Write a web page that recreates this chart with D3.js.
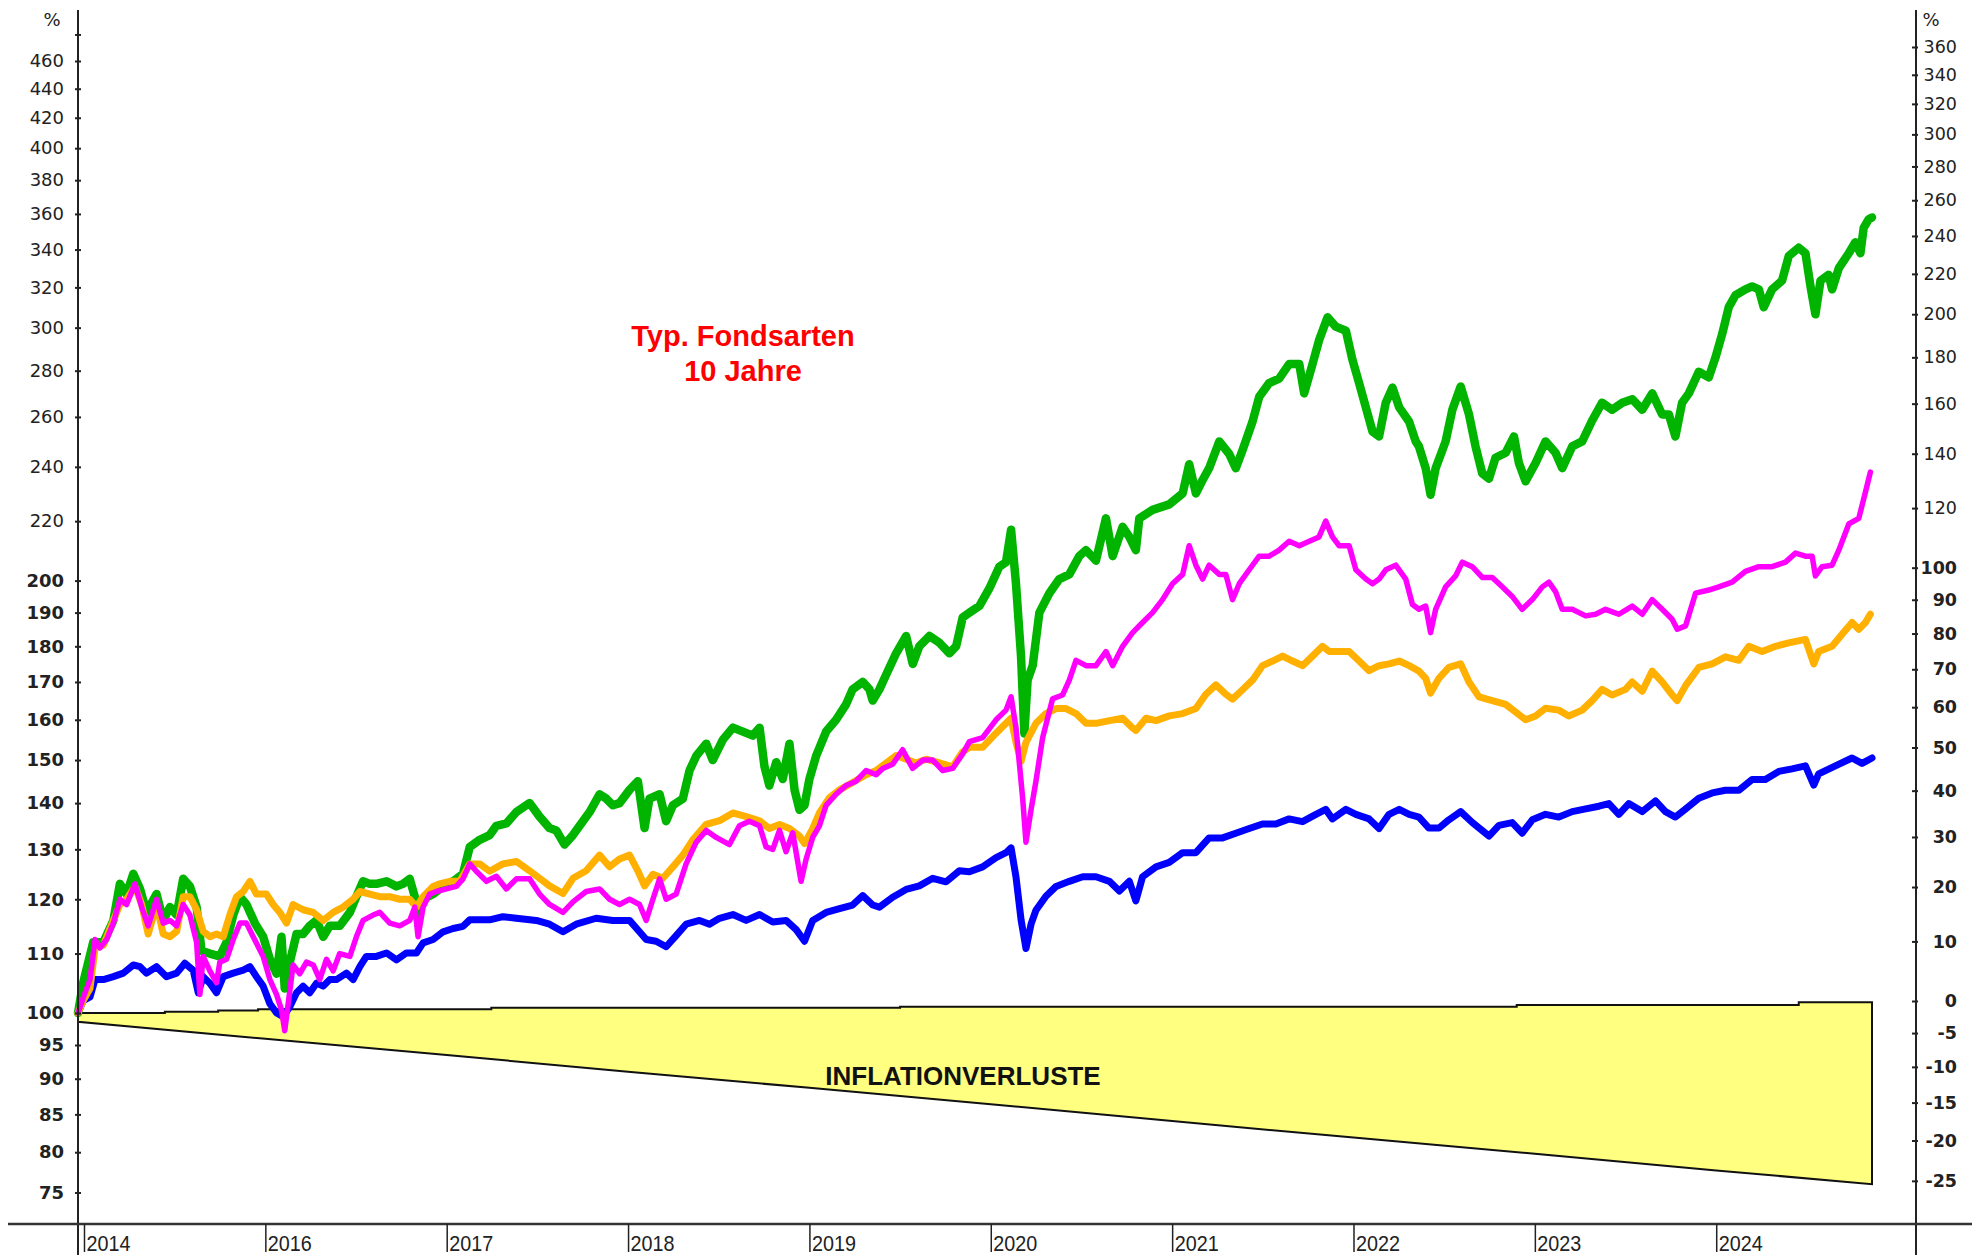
<!DOCTYPE html>
<html>
<head>
<meta charset="utf-8">
<script src="https://cdn.jsdelivr.net/npm/d3@7"></script>
<style>
    html, body { margin: 0; padding: 0; background: #fff; }
    svg { display: block; font-family: "Liberation Sans", Arial, sans-serif; }
</style>
</head>
<body>
<div id="chart"></div>
<script>
// x axis: tick positions (decimal years) and the labels the source prints there
const yearTicks = [2015, 2016, 2017, 2018, 2019, 2020, 2021, 2022, 2023, 2024];
const yearLabels = ["2014", "2016", "2017", "2018", "2019", "2020", "2021", "2022", "2023", "2024"];

// y axes: left = index (start = 100), right = change in %
const leftTicks = [75, 80, 85, 90, 95, 100, 110, 120, 130, 140, 150, 160, 170, 180, 190, 200,
    220, 240, 260, 280, 300, 320, 340, 360, 380, 400, 420, 440, 460, 480];
const rightTicks = [-25, -20, -15, -10, -5, 0, 10, 20, 30, 40, 50, 60, 70, 80, 90, 100,
    120, 140, 160, 180, 200, 220, 240, 260, 280, 300, 320, 340, 360];

// inflation band (index values)
const inflationTop = [[2014.967, 100], [2015.446, 100.2], [2015.74, 100.4], [2015.96, 100.6],
    [2017.246, 100.85], [2019.5, 101.0], [2022.9, 101.3], [2024.455, 101.75], [2024.859, 101.75]];
const inflationBottom = [[2014.967, 98.6], [2016, 95.96], [2017, 93.5], [2018, 91], [2019, 88.7],
    [2020, 86.4], [2021, 84.1], [2022, 81.9], [2023, 79.8], [2024, 77.7], [2024.859, 76]];

// fund series: [decimal year, index]
const seriesGreen = [
    [2014.967, 100], [2014.996, 105], [2015.051, 112], [2015.107, 112], [2015.162, 116], [2015.198, 123],
    [2015.235, 121], [2015.272, 125], [2015.309, 122], [2015.345, 117.5], [2015.4, 121], [2015.437, 116],
    [2015.474, 118.5], [2015.511, 117], [2015.547, 124], [2015.584, 122.5], [2015.621, 118.5], [2015.648, 110.5],
    [2015.694, 110], [2015.749, 109.5], [2015.786, 112], [2015.823, 117], [2015.86, 120.5], [2015.896, 119],
    [2015.942, 115.5], [2015.988, 113], [2016.025, 109], [2016.062, 106.5], [2016.089, 113], [2016.107, 104],
    [2016.135, 108.5], [2016.172, 113.5], [2016.208, 113.5], [2016.245, 115], [2016.282, 116], [2016.319, 113],
    [2016.355, 115], [2016.41, 115], [2016.466, 117.5], [2016.502, 120.5], [2016.539, 123.5], [2016.576, 123],
    [2016.612, 123], [2016.668, 123.5], [2016.723, 122.5], [2016.759, 123], [2016.796, 124], [2016.824, 120.5],
    [2016.842, 117], [2016.87, 120], [2016.925, 121], [2016.98, 122.5], [2017.035, 123.5], [2017.09, 125],
    [2017.127, 130.5], [2017.182, 132], [2017.237, 133], [2017.274, 135], [2017.329, 135.5], [2017.384, 138],
    [2017.457, 140], [2017.512, 137], [2017.567, 134.5], [2017.604, 134], [2017.65, 131], [2017.696, 133],
    [2017.733, 135], [2017.788, 138], [2017.843, 142], [2017.88, 141], [2017.916, 139.5], [2017.953, 140],
    [2018.008, 143], [2018.054, 145], [2018.091, 134.5], [2018.118, 141], [2018.174, 142], [2018.21, 136],
    [2018.247, 139.5], [2018.302, 141], [2018.339, 147.5], [2018.376, 151], [2018.431, 154], [2018.467, 150],
    [2018.523, 155], [2018.578, 158], [2018.633, 157], [2018.688, 156], [2018.725, 158], [2018.752, 148.5],
    [2018.779, 144], [2018.817, 149.5], [2018.853, 145.5], [2018.89, 154], [2018.918, 143], [2018.945, 138.5],
    [2018.973, 139.5], [2019.0, 145.5], [2019.037, 151], [2019.092, 157], [2019.147, 160], [2019.202, 164],
    [2019.238, 168], [2019.294, 170], [2019.331, 168], [2019.349, 165], [2019.386, 168], [2019.423, 172],
    [2019.478, 178], [2019.533, 183], [2019.57, 175], [2019.606, 180], [2019.662, 183], [2019.717, 181],
    [2019.772, 178], [2019.809, 180], [2019.845, 188.5], [2019.882, 190], [2019.937, 192], [2019.992, 197.5],
    [2020.047, 204.5], [2020.084, 206], [2020.112, 217], [2020.139, 199], [2020.167, 177], [2020.185, 156.5],
    [2020.203, 170.5], [2020.231, 174.5], [2020.268, 190], [2020.323, 196], [2020.378, 200.5], [2020.433, 202],
    [2020.488, 208], [2020.525, 210], [2020.58, 206.5], [2020.635, 221], [2020.672, 208], [2020.727, 218],
    [2020.764, 214.5], [2020.8, 210], [2020.819, 221], [2020.892, 224], [2020.984, 226], [2021.058, 230],
    [2021.094, 241], [2021.131, 230], [2021.168, 235], [2021.204, 239.5], [2021.26, 250], [2021.315, 245],
    [2021.351, 239.5], [2021.388, 246.5], [2021.443, 258], [2021.48, 268.5], [2021.535, 274.5], [2021.59, 276.5],
    [2021.645, 283], [2021.701, 283], [2021.728, 270], [2021.774, 283], [2021.81, 294], [2021.857, 305],
    [2021.902, 300.5], [2021.958, 298.5], [2021.994, 285], [2022.031, 274.5], [2022.068, 264], [2022.105, 254],
    [2022.141, 252], [2022.178, 266], [2022.215, 272.5], [2022.252, 264], [2022.307, 258], [2022.343, 250],
    [2022.361, 248], [2022.398, 239.5], [2022.425, 229.5], [2022.453, 239.5], [2022.508, 250], [2022.545, 263],
    [2022.591, 273], [2022.637, 261], [2022.673, 248], [2022.71, 237.5], [2022.747, 235.5], [2022.783, 243.5],
    [2022.839, 245.5], [2022.885, 252], [2022.912, 241.5], [2022.949, 234.5], [2023.004, 241.5], [2023.059, 250],
    [2023.114, 245.5], [2023.151, 239.5], [2023.206, 248], [2023.261, 250], [2023.316, 258.5], [2023.371, 266],
    [2023.426, 263], [2023.482, 266], [2023.537, 267.5], [2023.592, 263], [2023.647, 270], [2023.702, 261],
    [2023.739, 261], [2023.775, 252], [2023.812, 266], [2023.849, 270], [2023.904, 279.5], [2023.959, 277],
    [2023.996, 286], [2024.033, 297], [2024.069, 310], [2024.106, 316], [2024.161, 319], [2024.198, 320.5],
    [2024.235, 319], [2024.262, 310], [2024.308, 319], [2024.363, 323.5], [2024.4, 336.5], [2024.455, 341],
    [2024.492, 338], [2024.52, 320.5], [2024.547, 306.5], [2024.575, 323.5], [2024.62, 326.5], [2024.639, 319],
    [2024.676, 330], [2024.731, 338], [2024.767, 344], [2024.795, 338], [2024.813, 352], [2024.841, 357],
    [2024.859, 358]
];

const seriesMagenta = [
    [2014.967, 100], [2014.996, 102.5], [2015.033, 105.5], [2015.061, 112.5], [2015.088, 111], [2015.125, 112.5],
    [2015.162, 115.5], [2015.198, 120], [2015.235, 119], [2015.281, 123], [2015.318, 118.5], [2015.354, 115],
    [2015.4, 120], [2015.437, 115.5], [2015.474, 116], [2015.511, 115], [2015.547, 119], [2015.584, 117],
    [2015.621, 112], [2015.639, 103], [2015.657, 109.5], [2015.694, 107], [2015.731, 105], [2015.749, 108.5],
    [2015.786, 109], [2015.823, 112.5], [2015.86, 115.5], [2015.896, 115.5], [2015.933, 113], [2015.988, 109.5],
    [2016.025, 105.5], [2016.062, 103], [2016.089, 100.5], [2016.107, 97.2], [2016.126, 101.5], [2016.153, 108],
    [2016.19, 106.5], [2016.227, 108.5], [2016.264, 108], [2016.3, 105.5], [2016.337, 109], [2016.374, 107],
    [2016.41, 110], [2016.466, 109.5], [2016.502, 113], [2016.539, 116], [2016.594, 117], [2016.631, 117.5],
    [2016.686, 115.5], [2016.741, 115], [2016.796, 116], [2016.824, 118.5], [2016.842, 113], [2016.87, 118.5],
    [2016.906, 121], [2016.943, 121.5], [2016.998, 122], [2017.053, 122.5], [2017.09, 124], [2017.127, 127],
    [2017.163, 125.5], [2017.219, 123.5], [2017.274, 124.5], [2017.329, 122], [2017.384, 124], [2017.457, 124],
    [2017.512, 121], [2017.567, 119], [2017.641, 117.5], [2017.696, 119.5], [2017.769, 121.5], [2017.843, 122],
    [2017.898, 120], [2017.953, 119], [2018.008, 120], [2018.063, 119], [2018.1, 116], [2018.137, 120],
    [2018.174, 124], [2018.21, 120], [2018.265, 121], [2018.32, 127], [2018.376, 131.5], [2018.431, 134],
    [2018.486, 132.5], [2018.559, 131], [2018.614, 135], [2018.669, 136], [2018.725, 135], [2018.761, 130.5],
    [2018.798, 130], [2018.835, 134], [2018.871, 129.5], [2018.908, 133.5], [2018.954, 123.5], [2018.982, 128],
    [2019.018, 132.5], [2019.055, 135], [2019.092, 139.5], [2019.147, 142], [2019.202, 144], [2019.257, 145],
    [2019.312, 147.5], [2019.368, 146.5], [2019.404, 148], [2019.459, 149], [2019.514, 152.5], [2019.569, 148],
    [2019.625, 150], [2019.68, 150], [2019.735, 147.5], [2019.79, 148], [2019.845, 151.5], [2019.882, 154.5],
    [2019.955, 155.5], [2020.029, 160], [2020.084, 162.5], [2020.112, 166], [2020.139, 158], [2020.176, 141],
    [2020.194, 131.5], [2020.222, 138.5], [2020.249, 145], [2020.286, 155.5], [2020.341, 165.5], [2020.396, 166.5],
    [2020.433, 170.5], [2020.47, 176], [2020.525, 174.5], [2020.58, 174.5], [2020.635, 178.5], [2020.672, 174.5],
    [2020.727, 180], [2020.782, 184], [2020.837, 187], [2020.892, 190], [2020.947, 194], [2021.002, 199],
    [2021.058, 202], [2021.094, 211.5], [2021.131, 205], [2021.168, 200.5], [2021.204, 205], [2021.26, 202],
    [2021.296, 202], [2021.333, 194], [2021.37, 199], [2021.425, 203.5], [2021.48, 208], [2021.535, 208],
    [2021.59, 210], [2021.645, 213], [2021.701, 211.5], [2021.756, 213], [2021.81, 214.5], [2021.847, 220],
    [2021.884, 214.5], [2021.921, 211.5], [2021.976, 211.5], [2022.013, 203.5], [2022.068, 200.5], [2022.105, 199],
    [2022.141, 200.5], [2022.178, 203.5], [2022.233, 205], [2022.288, 200.5], [2022.325, 192.5], [2022.361, 191],
    [2022.398, 192], [2022.425, 184], [2022.453, 191], [2022.508, 198], [2022.563, 201.5], [2022.6, 206],
    [2022.655, 204.5], [2022.71, 201], [2022.765, 201], [2022.82, 198], [2022.875, 195], [2022.93, 191],
    [2022.986, 194], [2023.041, 198], [2023.077, 199.5], [2023.114, 196.5], [2023.151, 191], [2023.206, 191],
    [2023.28, 189], [2023.335, 189.5], [2023.39, 191], [2023.463, 189.5], [2023.537, 192], [2023.592, 189.5],
    [2023.647, 194], [2023.702, 191], [2023.757, 188], [2023.785, 185], [2023.831, 186], [2023.886, 196],
    [2023.959, 197], [2024.014, 198], [2024.088, 199.5], [2024.161, 203], [2024.235, 204.5], [2024.308, 204.5],
    [2024.382, 206], [2024.437, 209], [2024.492, 208], [2024.529, 208], [2024.547, 201.5], [2024.584, 204.5],
    [2024.639, 205], [2024.676, 210], [2024.731, 219], [2024.786, 221], [2024.823, 230.5], [2024.85, 238]
];

const seriesOrange = [
    [2014.967, 100], [2014.996, 102], [2015.033, 104], [2015.061, 111], [2015.107, 111.5], [2015.162, 116],
    [2015.198, 119], [2015.235, 120], [2015.281, 122.5], [2015.318, 119], [2015.354, 113.5], [2015.4, 119],
    [2015.437, 113.5], [2015.474, 113], [2015.511, 114], [2015.547, 120.5], [2015.584, 120.5], [2015.621, 118],
    [2015.657, 114], [2015.694, 113], [2015.731, 113.5], [2015.768, 113], [2015.804, 117], [2015.841, 120.5],
    [2015.878, 121.5], [2015.915, 123.5], [2015.951, 121], [2016.006, 121], [2016.043, 119], [2016.08, 117.5],
    [2016.117, 115.5], [2016.153, 119], [2016.208, 118], [2016.264, 117.5], [2016.319, 116], [2016.374, 117.5],
    [2016.429, 118.5], [2016.484, 120], [2016.521, 121.5], [2016.576, 121], [2016.631, 120.5], [2016.686, 120.5],
    [2016.741, 120], [2016.796, 120], [2016.833, 118.5], [2016.87, 120.5], [2016.925, 122.5], [2016.961, 123],
    [2017.017, 123.5], [2017.072, 123.5], [2017.127, 127], [2017.182, 127], [2017.237, 125.5], [2017.31, 127],
    [2017.384, 127.5], [2017.457, 125.6], [2017.512, 124.1], [2017.567, 122.6], [2017.641, 121.1], [2017.696, 124.1],
    [2017.769, 125.6], [2017.843, 128.8], [2017.898, 126.4], [2017.953, 128], [2018.008, 128.8], [2018.054, 125.6],
    [2018.091, 122.6], [2018.137, 124.9], [2018.192, 124.1], [2018.247, 126.4], [2018.302, 128.8], [2018.357, 132],
    [2018.431, 135.3], [2018.504, 136.1], [2018.578, 137.8], [2018.651, 137], [2018.725, 136.1], [2018.779, 134.4],
    [2018.835, 135.3], [2018.89, 134.4], [2018.945, 132.8], [2018.973, 131.2], [2019.018, 134.4], [2019.055, 137.8],
    [2019.11, 141.2], [2019.166, 143], [2019.238, 144.7], [2019.312, 146.5], [2019.368, 147.5], [2019.423, 149.3],
    [2019.478, 151.1], [2019.533, 150.2], [2019.588, 149.3], [2019.643, 150.2], [2019.717, 149.3], [2019.79, 148.4],
    [2019.845, 152], [2019.882, 153.1], [2019.955, 153.1], [2020.029, 156.6], [2020.084, 159.1], [2020.112, 160.4],
    [2020.139, 154.3], [2020.167, 149.7], [2020.194, 154.3], [2020.249, 159.1], [2020.304, 161.6], [2020.36, 162.9],
    [2020.415, 162.9], [2020.47, 161.6], [2020.525, 159.1], [2020.58, 159.1], [2020.654, 159.8], [2020.727, 160.4],
    [2020.782, 157.9], [2020.8, 157.3], [2020.856, 160.4], [2020.911, 159.8], [2020.984, 161], [2021.058, 161.6],
    [2021.131, 162.9], [2021.186, 166.7], [2021.241, 169.2], [2021.296, 166.7], [2021.333, 165.4], [2021.388, 167.9],
    [2021.443, 170.5], [2021.498, 174.5], [2021.554, 175.8], [2021.609, 177.2], [2021.664, 175.8], [2021.719, 174.5],
    [2021.774, 177.2], [2021.829, 180], [2021.866, 178.5], [2021.921, 178.5], [2021.976, 178.5], [2022.031, 175.8],
    [2022.086, 173.1], [2022.141, 174.5], [2022.196, 175], [2022.252, 175.8], [2022.307, 174.5], [2022.361, 173],
    [2022.398, 171], [2022.425, 167], [2022.471, 171], [2022.526, 174], [2022.591, 175], [2022.637, 170],
    [2022.692, 166], [2022.765, 165], [2022.839, 164], [2022.894, 162], [2022.949, 160], [2023.004, 161],
    [2023.059, 163], [2023.132, 162.5], [2023.187, 161], [2023.261, 162.5], [2023.316, 165], [2023.371, 168],
    [2023.426, 166.5], [2023.5, 168], [2023.537, 170], [2023.592, 167.5], [2023.647, 173], [2023.702, 170],
    [2023.757, 166.5], [2023.785, 165], [2023.831, 169], [2023.904, 174], [2023.978, 175], [2024.051, 177],
    [2024.125, 176], [2024.18, 180], [2024.253, 178.5], [2024.327, 180], [2024.4, 181], [2024.492, 182],
    [2024.538, 175], [2024.565, 178.5], [2024.639, 180], [2024.694, 183.5], [2024.749, 187], [2024.786, 185],
    [2024.823, 187], [2024.85, 189.5]
];

const seriesBlue = [
    [2014.967, 100], [2014.996, 102], [2015.033, 102.6], [2015.061, 105.5], [2015.107, 105.5], [2015.162, 106],
    [2015.217, 106.6], [2015.272, 108], [2015.309, 107.7], [2015.345, 106.6], [2015.4, 107.7], [2015.455, 106],
    [2015.511, 106.6], [2015.556, 108.3], [2015.602, 107.1], [2015.63, 103.3], [2015.657, 106], [2015.694, 104.9],
    [2015.731, 103.3], [2015.768, 106], [2015.823, 106.6], [2015.878, 107.1], [2015.915, 107.7], [2015.951, 106],
    [2015.988, 104.4], [2016.025, 101.5], [2016.062, 100], [2016.098, 99.4], [2016.135, 101], [2016.172, 103.3],
    [2016.208, 104.4], [2016.245, 103.3], [2016.282, 104.9], [2016.319, 104.4], [2016.355, 105.5], [2016.392, 105.5],
    [2016.447, 106.6], [2016.484, 105.5], [2016.521, 107.7], [2016.557, 109.5], [2016.612, 109.5], [2016.668, 110.1],
    [2016.723, 108.9], [2016.778, 110.1], [2016.833, 110.1], [2016.87, 111.9], [2016.925, 112.5], [2016.98, 113.9],
    [2017.035, 114.5], [2017.09, 114.9], [2017.127, 116.1], [2017.182, 116.1], [2017.237, 116.1], [2017.31, 116.7],
    [2017.384, 116.4], [2017.494, 116], [2017.567, 115.3], [2017.641, 113.9], [2017.714, 115.3], [2017.824, 116.4],
    [2017.916, 116], [2018.008, 116], [2018.063, 113.9], [2018.1, 112.5], [2018.155, 112.2], [2018.21, 111.2],
    [2018.265, 113.2], [2018.32, 115.3], [2018.394, 116], [2018.449, 115.3], [2018.504, 116.4], [2018.578, 117.1],
    [2018.651, 116], [2018.725, 117.1], [2018.798, 115.7], [2018.871, 116], [2018.927, 114.3], [2018.973, 112.2],
    [2019.018, 116], [2019.092, 117.5], [2019.166, 118.2], [2019.238, 118.9], [2019.294, 120.7], [2019.349, 118.9],
    [2019.386, 118.5], [2019.459, 120.4], [2019.533, 121.9], [2019.606, 122.6], [2019.68, 124.1], [2019.753, 123.4],
    [2019.827, 125.6], [2019.882, 125.4], [2019.955, 126.4], [2020.029, 128.3], [2020.084, 129.3], [2020.112, 130.3],
    [2020.139, 124.4], [2020.167, 116.1], [2020.194, 110.9], [2020.222, 115.3], [2020.249, 117.9], [2020.304, 120.6],
    [2020.36, 122.5], [2020.433, 123.5], [2020.507, 124.4], [2020.58, 124.4], [2020.654, 123.5], [2020.709, 121.6],
    [2020.764, 123.5], [2020.8, 119.7], [2020.837, 124.4], [2020.911, 126.4], [2020.984, 127.3], [2021.058, 129.3],
    [2021.131, 129.3], [2021.204, 132.4], [2021.278, 132.4], [2021.351, 133.4], [2021.425, 134.4], [2021.498, 135.4],
    [2021.572, 135.4], [2021.645, 136.5], [2021.719, 135.9], [2021.793, 137.5], [2021.847, 138.6], [2021.884, 136.5],
    [2021.958, 138.6], [2022.013, 137.5], [2022.086, 136.5], [2022.141, 134.4], [2022.196, 137.5], [2022.252, 138.6],
    [2022.307, 137.5], [2022.361, 136.9], [2022.416, 134.5], [2022.471, 134.5], [2022.526, 136.3], [2022.591, 138.1],
    [2022.655, 135.7], [2022.747, 132.8], [2022.802, 135.1], [2022.875, 135.7], [2022.93, 133.4], [2022.986, 136.3],
    [2023.059, 137.5], [2023.132, 136.9], [2023.206, 138.1], [2023.28, 138.7], [2023.353, 139.3], [2023.408, 139.9],
    [2023.463, 137.5], [2023.518, 139.9], [2023.592, 138.1], [2023.665, 140.5], [2023.72, 138.1], [2023.775, 136.9],
    [2023.831, 138.7], [2023.904, 141.1], [2023.978, 142.3], [2024.051, 142.9], [2024.125, 142.9], [2024.198, 145.4],
    [2024.271, 145.4], [2024.345, 147.3], [2024.418, 147.9], [2024.492, 148.6], [2024.538, 144.1], [2024.565, 146.7],
    [2024.657, 148.6], [2024.749, 150.5], [2024.804, 149.2], [2024.859, 150.5]
];

const width = 1986;
const height = 1255;
const tickFont = '"DejaVu Sans", Verdana, sans-serif';

const svg = d3.select('#chart').append('svg')
    .attr('width', width)
    .attr('height', height)
    .style('background', '#fff');

// scales
const x = d3.scaleLinear()
    .domain([2014.967, 2024.859])
    .range([78, 1872]);

const y = d3.scaleLog()
    .domain([100, 460])
    .range([1013, 61]);

// right axis is drawn against (change + 100), it sits a few pixels higher in the source
const yRight = d3.scaleLog()
    .domain([100, 460])
    .range([1001, 47]);

// inflation band: stepped top edge, sloping bottom edge
const topSteps = [];
inflationTop.forEach((d, i) => {
    if (i > 0) topSteps.push([d[0], inflationTop[i - 1][1]]);
    topSteps.push(d);
});
const bandPoints = topSteps.concat(inflationBottom.slice().reverse());

const pointLine = d3.line()
    .x(d => x(d[0]))
    .y(d => y(d[1]));

svg.append('path')
    .attr('d', pointLine(bandPoints) + 'Z')
    .attr('fill', '#ffff80')
    .attr('stroke', '#111')
    .attr('stroke-width', 2);

svg.append('text')
    .attr('x', 963)
    .attr('y', 1085)
    .attr('text-anchor', 'middle')
    .style('font-size', '26px')
    .style('font-weight', 'bold')
    .attr('fill', '#111')
    .text('INFLATIONVERLUSTE');

// fund lines
const seriesList = [
    { data: seriesBlue, color: '#0000ff', width: 7 },
    { data: seriesGreen, color: '#00b400', width: 8.5 },
    { data: seriesOrange, color: '#ffb000', width: 7 },
    { data: seriesMagenta, color: '#ff00ff', width: 5.5 }
];

svg.append('g')
    .selectAll('path')
    .data(seriesList)
    .join('path')
    .attr('fill', 'none')
    .attr('stroke', d => d.color)
    .attr('stroke-width', d => d.width)
    .attr('stroke-linejoin', 'round')
    .attr('stroke-linecap', 'round')
    .attr('d', d => pointLine(d.data));

// title
const title = svg.append('text')
    .attr('x', 743)
    .attr('y', 346)
    .attr('text-anchor', 'middle')
    .attr('fill', '#ff0000')
    .style('font-size', '29px')
    .style('font-weight', 'bold');
title.append('tspan').attr('x', 743).text('Typ. Fondsarten');
title.append('tspan').attr('x', 743).attr('dy', 35).text('10 Jahre');

// left axis
const leftAxis = svg.append('g')
    .attr('transform', 'translate(78,0)')
    .call(d3.axisLeft(y).tickValues(leftTicks).tickFormat(d => d > 460 ? '' : d).tickSize(3));
leftAxis.select('.domain').remove();
leftAxis.selectAll('.tick line').attr('x1', -3).attr('x2', 3).attr('stroke', '#222').attr('stroke-width', 2);
leftAxis.selectAll('.tick text')
    .attr('x', -14)
    .attr('fill', '#222')
    .style('font-size', '18px')
    .style('font-weight', d => d <= 200 ? 'bold' : 'normal')
    .style('font-family', tickFont);

// right axis
const rightAxis = svg.append('g')
    .attr('transform', 'translate(1916,0)')
    .call(d3.axisRight(yRight).tickValues(rightTicks.map(r => r + 100)).tickFormat(d => Math.round(d - 100)).tickSize(3));
rightAxis.select('.domain').remove();
rightAxis.selectAll('.tick line').attr('x1', -4).attr('x2', 2).attr('stroke', '#222').attr('stroke-width', 2);
rightAxis.selectAll('.tick text')
    .attr('x', 41)
    .attr('text-anchor', 'end')
    .attr('fill', '#222')
    .style('font-size', '17.5px')
    .style('font-weight', d => d <= 200 ? 'bold' : 'normal')
    .style('font-family', tickFont);

// axis lines
svg.append('line').attr('x1', 78).attr('x2', 78).attr('y1', 10).attr('y2', 1255)
    .attr('stroke', '#222').attr('stroke-width', 2);
svg.append('line').attr('x1', 1916).attr('x2', 1916).attr('y1', 10).attr('y2', 1255)
    .attr('stroke', '#222').attr('stroke-width', 2);
svg.append('line').attr('x1', 8).attr('x2', 1972).attr('y1', 1224).attr('y2', 1224)
    .attr('stroke', '#333').attr('stroke-width', 2.5);

svg.append('text').attr('x', 52).attr('y', 26).attr('text-anchor', 'middle')
    .attr('fill', '#222').style('font-size', '18px').style('font-family', tickFont).text('%');
svg.append('text').attr('x', 1931).attr('y', 26).attr('text-anchor', 'middle')
    .attr('fill', '#222').style('font-size', '18px').style('font-family', tickFont).text('%');

// x axis
const xAxis = svg.append('g')
    .attr('transform', 'translate(0,1224)')
    .call(d3.axisBottom(x).tickValues(yearTicks).tickFormat((d, i) => yearLabels[i]).tickSize(28));
xAxis.select('.domain').remove();
xAxis.selectAll('.tick line').attr('stroke', '#222').attr('stroke-width', 1.5);
xAxis.selectAll('.tick text')
    .attr('x', 2)
    .attr('y', 27)
    .attr('dy', null)
    .attr('text-anchor', 'start')
    .attr('fill', '#222')
    .attr('textLength', 44)
    .attr('lengthAdjust', 'spacingAndGlyphs')
    .style('font-size', '22px')
    .style('font-family', '"Liberation Sans", Arial, sans-serif');
</script>
</body>
</html>
